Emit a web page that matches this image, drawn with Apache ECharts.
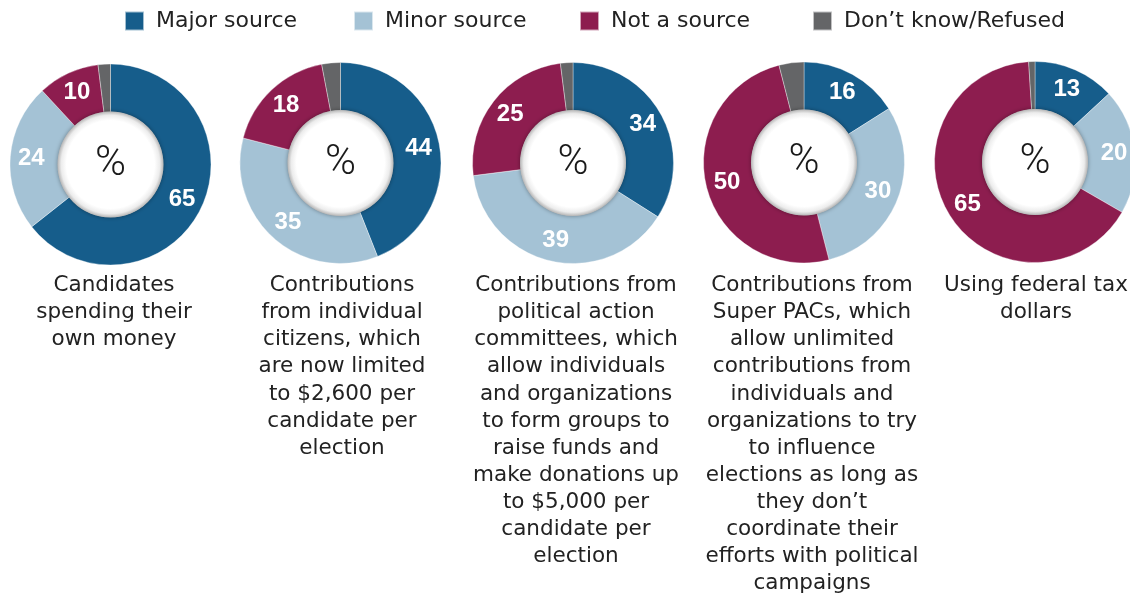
<!DOCTYPE html>
<html>
<head>
<meta charset="utf-8">
<title>Sources of campaign money</title>
<script src="https://cdn.jsdelivr.net/npm/echarts@6/dist/echarts.min.js"></script>
<style>
  html, body { margin: 0; padding: 0; background: #ffffff; }
  #chart { width: 1130px; height: 597px; }
</style>
</head>
<body>
<div id="chart"></div>
<script>
// Answer categories (legend order, clockwise from 12 o'clock)
const seriesNames = ['Major source', 'Minor source', 'Not a source', 'Don\u2019t know/Refused'];

// Percent answering each way, one entry per funding source
const majorSource = [65, 44, 34, 16, 13];
const minorSource = [24, 35, 39, 30, 20];
const notASource  = [10, 18, 25, 50, 65];
const dontKnow    = [2, 3, 2, 4, 1];

// Funding source captions, already broken into lines
const captions = [
  ['Candidates', 'spending their', 'own money'],
  ['Contributions', 'from individual', 'citizens, which', 'are now limited', 'to $2,600 per', 'candidate per', 'election'],
  ['Contributions from', 'political action', 'committees, which', 'allow individuals', 'and organizations', 'to form groups to',
   'raise funds and', 'make donations up', 'to $5,000 per', 'candidate per', 'election'],
  ['Contributions from', 'Super PACs, which', 'allow unlimited', 'contributions from', 'individuals and',
   'organizations to try', 'to influence', 'elections as long as', 'they don\u2019t', 'coordinate their',
   'efforts with political', 'campaigns'],
  ['Using federal tax', 'dollars']
];

// Layout
const pieCenters = [[110.5, 164.5], [340.5, 163], [573, 163], [804, 162.5], [1035, 162]];
const captionX = [114, 342, 576, 812, 1036];
const captionTop = 272;
const ringRadius = [52.5, 100.5];
const colors = ['#165d8b', '#a4c2d5', '#8d1d4f', '#646567'];
const legendLeft = [124, 353, 579, 812];

const chart = echarts.init(document.getElementById('chart'), null, { renderer: 'canvas' });

const series = [];
pieCenters.forEach((c, i) => {
  const values = [majorSource[i], minorSource[i], notASource[i], dontKnow[i]];
  // Ring of answers
  series.push({
    type: 'pie',
    center: c,
    radius: ringRadius,
    startAngle: 90,
    clockwise: true,
    avoidLabelOverlap: false,
    silent: true,
    animation: false,
    emphasis: { disabled: true },
    itemStyle: { borderColor: 'rgba(255,255,255,0.6)', borderWidth: 0.6 },
    label: {
      show: true,
      position: 'inside',
      color: '#ffffff',
      fontFamily: 'Liberation Sans',
      fontWeight: 'bold',
      fontSize: 24,
      formatter: p => (p.dataIndex === 3 ? '' : String(p.value))
    },
    labelLine: { show: false },
    data: values.map((v, k) => ({ name: seriesNames[k], value: v, itemStyle: { color: colors[k] } }))
  });
  // White hub with the percent sign
  series.push({
    type: 'pie',
    center: c,
    radius: [0, ringRadius[0] + 0.5],
    silent: true,
    animation: false,
    emphasis: { disabled: true },
    legendHoverLink: false,
    label: {
      show: true,
      position: 'center',
      formatter: '%',
      color: '#1a1a1a',
      fontFamily: 'Roboto',
      fontWeight: 300,
      fontSize: 42,
      padding: [0, 0, 6, 0]
    },
    labelLine: { show: false },
    itemStyle: {
      color: {
        type: 'radial', x: 0.5, y: 0.5, r: 0.5,
        colorStops: [
          { offset: 0, color: '#ffffff' },
          { offset: 0.83, color: '#ffffff' },
          { offset: 0.93, color: '#ececec' },
          { offset: 1, color: '#b5b5b5' }
        ]
      },
      shadowBlur: 4,
      shadowColor: 'rgba(0,0,0,0.35)'
    },
    data: [{ name: 'hub', value: 1 }]
  });
});

const legends = seriesNames.map((n, k) => ({
  data: [n],
  left: legendLeft[k],
  top: 10,
  padding: 0,
  icon: 'rect',
  itemWidth: 19,
  itemHeight: 19,
  selectedMode: false,
  textStyle: {
    fontFamily: 'DejaVu Sans',
    fontSize: 22,
    color: '#222222',
    padding: [0, 0, 0, 7]
  }
}));

const captionGraphics = captions.map((lines, i) => ({
  type: 'text',
  x: captionX[i],
  y: captionTop,
  silent: true,
  style: {
    text: lines.join('\n'),
    align: 'center',
    verticalAlign: 'top',
    fontFamily: 'DejaVu Sans',
    fontSize: 21.5,
    lineHeight: 27.1,
    fill: '#222222'
  }
}));

chart.setOption({
  backgroundColor: '#ffffff',
  animation: false,
  legend: legends,
  series: series,
  graphic: captionGraphics
});
</script>
</body>
</html>
